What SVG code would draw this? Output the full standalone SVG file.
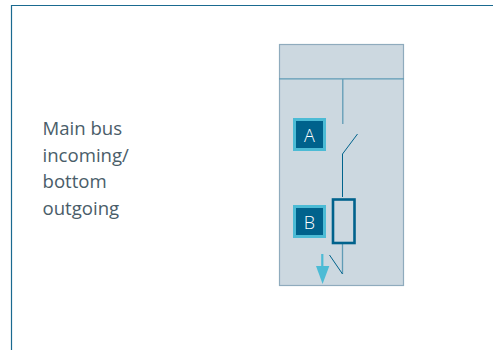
<svg xmlns="http://www.w3.org/2000/svg" width="493" height="350" viewBox="0 0 493 350">
<style>
.w{fill:none;stroke:#00638c;stroke-width:1}
.l{fill:none;stroke:#5f9bb5;stroke-width:1.3}
.tag{fill:#00628c;stroke:#4cbbd5;stroke-width:3}
.tagt{font-family:"Open Sans",sans-serif;font-size:18px;font-weight:300;fill:#fff;text-anchor:middle}
.lab{font-family:"Open Sans",sans-serif;font-size:18.6px;fill:#4a5d69}
</style>
<rect width="493" height="350" fill="#fff"/>
<path id="frame" d="M11.500 350V5.500H493" fill="none" stroke="#1a6a90" stroke-width="1.200"/>
<g id="label"><text class="lab" x="42.500" y="135">Main bus</text><text class="lab" x="42.500" y="161.500">incoming/</text><text class="lab" x="42.500" y="188">bottom</text><text class="lab" x="42.500" y="214.500">outgoing</text></g>
<g id="panel"><rect x="279.500" y="44.500" width="124" height="241" fill="#ccd8e0" stroke="#8fabbd" stroke-width="1.200"/></g>
<g id="connectors">
<path class="l" d="M279 78.800H404M342.800 79V124"/>
<path class="w" d="M342.500 154V197M342.500 154L357.500 134"/>
<path class="l" d="M342.500 244V274"/>
<path class="w" d="M342.500 274L329.500 255"/>
<path fill="none" stroke="#4cbbd5" stroke-width="2.200" d="M322.300 254V272"/>
<path fill="#4cbbd5" d="M316 266H329.300L322.600 284Z"/>
</g>
<g id="fuse"><rect x="333" y="199.500" width="21.500" height="43.500" fill="#ccd8e0" stroke="#00628c" stroke-width="2.600"/></g>
<g id="A"><rect class="tag" x="294.500" y="119.500" width="30" height="30"/><text class="tagt" x="309.500" y="141.500">A</text></g>
<g id="B"><rect class="tag" x="294.500" y="206.500" width="30" height="30"/><text class="tagt" x="309.500" y="228.500">B</text></g>
</svg>
